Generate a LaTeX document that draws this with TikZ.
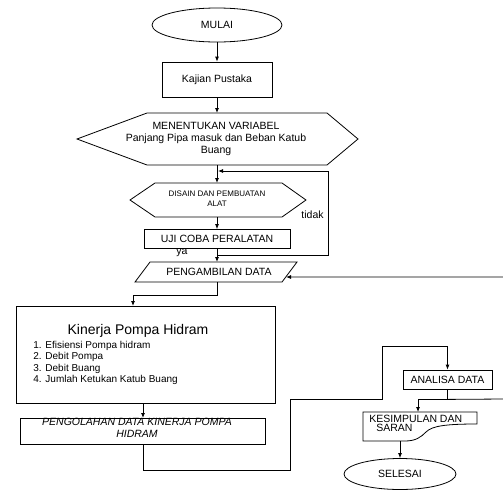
\documentclass[tikz,border=0pt]{standalone}
\usepackage{fontspec}
\setmainfont{Liberation Sans}
\usetikzlibrary{shapes.geometric, arrows.meta}

\begin{document}
\begin{tikzpicture}[x=1pt, y=-1pt, line width=0.8pt, >={Latex[length=5pt,width=4pt]},
    font=\fontsize{10.5}{12}\selectfont,
    box/.style = {draw, rectangle, inner sep=0pt},
    term/.style = {draw, ellipse, inner sep=0pt},
    txt/.style = {inner sep=0pt, align=center}]
    \useasboundingbox (0,0) rectangle (503,490);
    \node[term, minimum width=130, minimum height=34] (mulai) at (217,25) {MULAI};
    \node[box, minimum width=110, minimum height=35] (kajian) at (217,79.5) {Kajian Pustaka};
    \draw (77,139) -- (147,113) -- (327,113) -- (358,139) -- (327,165) -- (147,165) -- cycle;
    \node[txt] (variabel) at (216,139) {MENENTUKAN VARIABEL\\Panjang Pipa masuk dan Beban Katub\\Buang};
    \draw (130,200) -- (155,183) -- (282,183) -- (306,200) -- (282,217) -- (155,217) -- cycle;
    \node[txt, font=\fontsize{8}{10}\selectfont] (disain) at (217,199) {DISAIN DAN PEMBUATAN\\ALAT};
    \node[box, minimum width=146, minimum height=19] (uji) at (217,239) {UJI COBA PERALATAN};
    \draw (150,262) -- (297,262) -- (282,282) -- (135,282) -- cycle;
    \node[txt] (ambil) at (219,272) {PENGAMBILAN DATA};
    \node[box, minimum width=259, minimum height=97] (kinerja) at (145.5,354.5) {};
    \node[txt, font=\fontsize{14}{16}\selectfont] (judul) at (138,331) {Kinerja Pompa Hidram};
    \node[txt, anchor=west, align=left, font=\fontsize{10}{11.3}\selectfont] (daftar) at (33,363)
        {1. Efisiensi Pompa hidram\\2. Debit Pompa\\3. Debit Buang\\4. Jumlah Ketukan Katub Buang};
    \node[box, minimum width=245, minimum height=26] (olah) at (142.5,431) {};
    \node[txt, font=\fontsize{10.5}{12}\selectfont\itshape] (olahteks) at (137,428) {PENGOLAHAN DATA KINERJA POMPA\\HIDRAM};
    \node[box, minimum width=89, minimum height=19] (analisa) at (447.5,379.5) {ANALISA DATA};
    \draw (363,412) -- (477,412) -- (477,424) .. controls (445,424) and (432,426) .. (426,432)
        .. controls (421,437) and (416,441) .. (405,441) -- (363,441) -- cycle;
    \node[txt, anchor=north west, align=left, font=\fontsize{10.5}{9}\selectfont] (simpul) at (369,415)
        {KESIMPULAN DAN\\\hspace*{7pt}SARAN};
    \node[term, minimum width=112, minimum height=31] (selesai) at (400,474) {SELESAI};
    \node[txt] (ya) at (182,253) {ya};
    \node[txt, anchor=east] (tidak) at (324,215) {tidak};

    \coordinate (v1) at (217,113);
    \coordinate (v2) at (217,165);
    \coordinate (d1) at (217,183);
    \coordinate (d2) at (217,217);
    \coordinate (b1) at (218,171);
    \coordinate (c1) at (217,255);
    \coordinate (p1) at (217,262);
    \coordinate (p2) at (217,282);
    \coordinate (p3) at (286,277);
    \coordinate (k1) at (133,306);
    \coordinate (k2) at (143,403);
    \coordinate (o1) at (143,418);
    \coordinate (o2) at (143,444);
    \coordinate (s1) at (418,412);
    \coordinate (s2) at (400,441);

    \draw[->] (mulai) -- (kajian);
    \draw[->] (kajian) -- (v1);
    \draw[->] (v2) -- (d1);
    \draw[->] (d2) -- (uji);
    \draw[->] (uji) -- (p1);
    \draw[->] (c1) -- (328,255) |- (b1);
    \draw[->] (p2) -- ++(0,13) -| (k1);
    \draw[->] (k2) -- (o1);
    \draw[->] (o2) -- ++(0,26) -| (290,399) -| (382,346) -| (analisa.north);
    \draw (analisa.south) -- ++(0,10) coordinate (cab);
    \draw[->] (cab) -| (s1);
    \draw[->] (cab) -- (504.5,399) |- (p3);
    \draw[->] (s2) -- (selesai.north);
\end{tikzpicture}
\end{document}
